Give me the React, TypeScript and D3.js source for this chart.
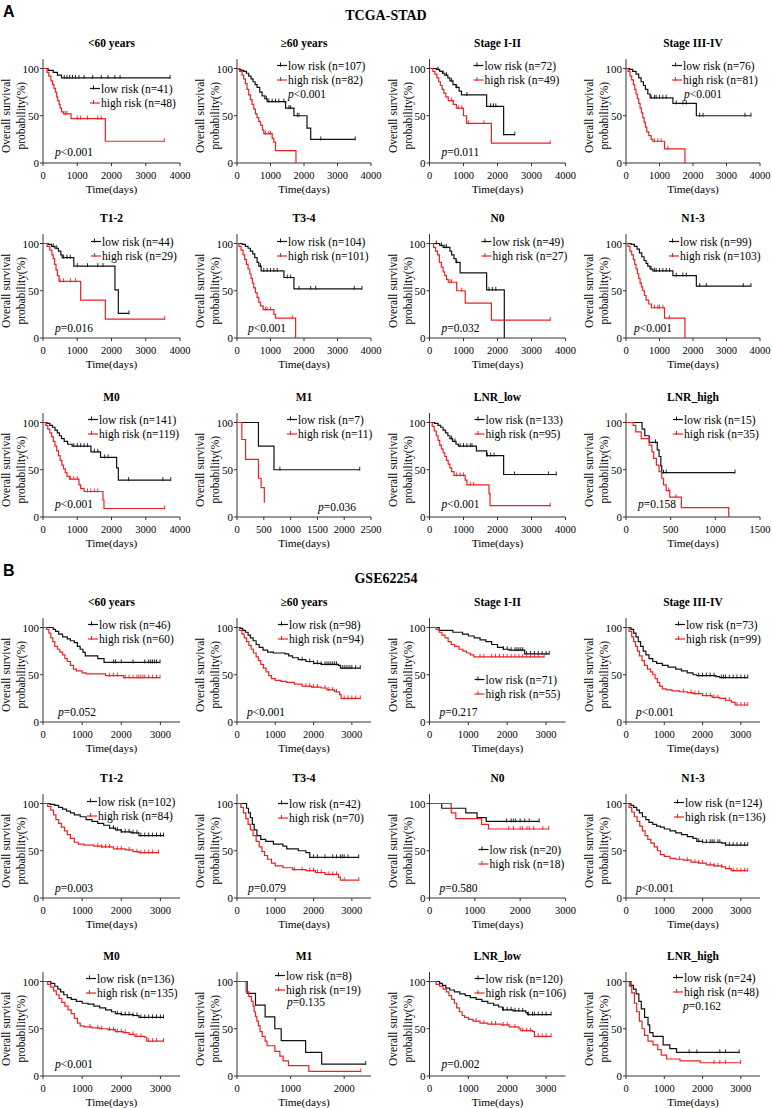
import React from 'react';
import * as d3 from 'd3';

type Pt = [number, number];

// ---------------- TCGA-STAD (block A) ----------------
const a1Low: Pt[] = [[0,100],[150,98],[300,96],[420,93],[540,90],[3710,90]];
const a1LowC = [620,700,780,860,950,1050,1200,1450,1700,1900,2100,2250,3710];
const a1High: Pt[] = [[0,100],[120,96],[170,92],[230,87],[280,83],[320,79],[360,75],[400,70],[430,66],[470,62],[500,58],[540,54],[600,52],[820,47],[1820,23],[3540,23]];
const a1HighC = [650,700,1000,1100,1300,1600,1700,3540];

const a2Low: Pt[] = [[0,100],[60,99],[120,98],[200,97],[280,95],[350,92],[420,89],[480,86],[540,83],[600,80],[680,75],[750,71],[830,68],[900,65],[1450,58],[1700,50],[2090,37],[2200,25],[3530,25]];
const a2LowC = [880,950,1050,1150,1250,1400,1550,1600,1800,1850,2500,3530];
const a2High: Pt[] = [[0,100],[80,97],[150,93],[200,89],[250,84],[300,78],[350,72],[400,67],[450,62],[500,57],[550,52],[600,48],[650,44],[700,40],[760,35],[800,31],[1050,26],[1100,22],[1150,13],[1760,0]];
const a2HighC = [850,950,1000];

const a3Low: Pt[] = [[0,100],[200,99],[300,97],[380,95],[450,93],[540,90],[600,87],[690,83],[780,80],[870,76],[940,72],[1680,60],[2180,30],[2510,30]];
const a3LowC = [250,400,500,650,800,1100,1800,1880,1950,2510];
const a3High: Pt[] = [[0,100],[100,97],[160,94],[220,90],[270,86],[320,82],[370,78],[420,74],[480,70],[550,66],[700,62],[790,58],[1000,50],[1090,42],[1820,21],[3550,21]];
const a3HighC = [650,850,950,1150,1600,3550];

const a4Low: Pt[] = [[0,100],[100,99],[200,97],[300,94],[380,90],[450,86],[520,82],[580,78],[650,73],[720,69],[1400,63],[2100,50],[3730,50]];
const a4LowC = [750,850,900,1000,1100,1200,1500,1700,1800,2200,2300,3550,3730];
const a4High: Pt[] = [[0,100],[60,97],[120,92],[170,88],[220,83],[260,78],[300,73],[340,68],[380,63],[420,58],[460,53],[500,48],[540,43],[580,38],[620,33],[680,29],[750,25],[800,23],[1150,15],[1760,0]];
const a4HighC = [850,950,1050,1250];

const a5Low: Pt[] = [[0,100],[150,99],[250,97],[350,95],[450,92],[520,88],[560,85],[900,76],[2100,51],[2200,26],[2510,26]];
const a5LowC = [300,400,600,700,800,1000,1300,1600,1750,2510];
const a5High: Pt[] = [[0,100],[120,97],[200,93],[260,88],[300,84],[340,78],[380,72],[420,66],[470,60],[1100,40],[1820,20],[3550,20]];
const a5HighC = [500,600,800,950,3550];

const a6Low: Pt[] = [[0,100],[150,99],[250,97],[330,95],[400,92],[470,89],[530,85],[600,80],[650,76],[720,71],[1400,64],[1700,52],[3730,52]];
const a6LowC = [700,800,900,1000,1100,1200,1500,1600,1850,2200,2350,3500,3730];
const a6High: Pt[] = [[0,100],[60,97],[120,93],[180,88],[230,83],[280,78],[330,73],[380,68],[420,63],[460,58],[500,53],[550,48],[600,43],[650,38],[700,34],[780,30],[1100,25],[1150,21],[1750,0]];
const a6HighC = [850,900,1000,1650];

const a7Low: Pt[] = [[0,100],[300,98],[400,96],[600,92],[650,88],[720,84],[780,80],[900,69],[1680,51],[2200,0]];
const a7LowC = [200,350,450,500,800,1750,1850,1950];
const a7High: Pt[] = [[0,100],[120,96],[180,92],[240,88],[290,80],[350,75],[400,70],[450,66],[500,62],[550,59],[800,50],[1050,37],[1820,19],[3550,19]];
const a7HighC = [600,650,950,3550];

const a8Low: Pt[] = [[0,100],[150,99],[250,97],[330,94],[400,90],[470,86],[540,82],[600,79],[650,76],[720,73],[800,71],[1400,66],[2100,55],[3730,55]];
const a8LowC = [750,850,900,1000,1100,1200,1300,1500,1700,1800,2200,2400,3500,3730];
const a8High: Pt[] = [[0,100],[60,97],[120,92],[170,88],[220,83],[260,78],[300,73],[340,68],[380,63],[420,58],[460,54],[500,50],[550,45],[600,40],[680,36],[760,32],[1150,21],[1760,0]];
const a8HighC = [850,950,1000,1100,1300];

const a9Low: Pt[] = [[0,100],[120,99],[200,97],[280,95],[350,92],[420,89],[480,86],[540,83],[620,80],[720,77],[850,75],[1400,69],[1680,63],[2150,52],[2200,39],[3730,39]];
const a9LowC = [900,1000,1100,1200,1300,1500,1600,1800,1900,2500,3500,3730];
const a9High: Pt[] = [[0,100],[80,97],[140,93],[200,89],[250,85],[300,80],[350,75],[400,70],[450,65],[500,60],[550,55],[600,51],[650,47],[700,43],[780,40],[1050,34],[1100,30],[1200,27],[1750,18],[1780,9],[3550,9]];
const a9HighC = [800,900,1000,1300,1400,1500,1600,3550];

const a10Low: Pt[] = [[0,100],[400,75],[690,50],[2290,50]];
const a10LowC = [800,2290];
const a10High: Pt[] = [[0,100],[90,82],[160,61],[400,41],[450,31],[510,15]];
const a10HighC: number[] = [];

const a11Low: Pt[] = [[0,100],[150,99],[250,97],[330,95],[400,92],[470,89],[540,86],[600,83],[680,80],[780,77],[850,75],[1380,70],[1680,65],[2180,45],[3730,45]];
const a11LowC = [650,750,900,1000,1100,1200,1250,1700,1800,1900,2500,3500,3730];
const a11High: Pt[] = [[0,100],[80,96],[140,91],[200,86],[250,81],[300,76],[350,72],[400,68],[450,64],[500,60],[550,56],[600,52],[650,48],[720,44],[1050,39],[1100,34],[1750,25],[1780,12],[3550,12]];
const a11HighC = [800,900,1000,1200,1300,3550];

const a12Low: Pt[] = [[0,100],[180,93],[210,86],[260,79],[350,71],[370,64],[390,54],[400,47],[1220,47]];
const a12LowC = [330,420,450,1220];
const a12High: Pt[] = [[0,100],[80,97],[110,90],[170,83],[260,76],[290,69],[310,62],[340,55],[370,48],[400,41],[420,34],[450,28],[490,21],[620,10],[1150,0]];
const a12HighC = [480,560];

// ---------------- GSE62254 (block B) ----------------
const b1Low: Pt[] = [[0,100],[260,98],[320,96],[400,93],[500,90],[620,88],[700,86],[800,84],[880,80],[950,77],[1020,74],[1080,70],[1400,67],[1560,63],[2990,63]];
const b1LowC = [1800,1850,2000,2300,2600,2700,2750,2800,2850,2900,2990];
const b1High: Pt[] = [[0,100],[90,98],[150,94],[200,89],[250,85],[300,80],[370,77],[430,74],[500,71],[560,67],[620,64],[700,60],[780,56],[850,54],[1000,52],[1100,51],[1600,49],[2060,47],[2990,47]];
const b1HighC = [1700,1800,1900,2100,2200,2300,2400,2450,2500,2550,2600,2700,2800,2900,2990];

const b2Low: Pt[] = [[0,100],[80,99],[150,97],[220,95],[290,92],[350,89],[420,86],[500,82],[580,79],[680,76],[800,74],[950,73],[1250,72],[1350,70],[1450,68],[1600,66],[1800,64],[2000,62],[2200,61],[2650,60],[2700,57],[3220,57]];
const b2LowC = [1700,1900,2000,2100,2200,2300,2350,2400,2450,2500,2550,2600,2750,2800,2850,2900,2950,3000,3100,3220];
const b2High: Pt[] = [[0,100],[70,97],[130,93],[190,89],[250,85],[310,81],[370,77],[430,73],[500,69],[560,65],[620,61],[690,57],[760,53],[830,49],[900,46],[1000,44],[1150,43],[1300,42],[1500,40],[1700,38],[1950,37],[2200,36],[2350,34],[2550,32],[2680,29],[2720,25],[3220,25]];
const b2HighC = [1800,1900,2000,2100,2300,2400,2500,2600,2800,2900,3000,3100,3220];

const b3Low: Pt[] = [[0,100],[250,97],[600,95],[850,93],[1000,91],[1150,89],[1300,87],[1450,85],[1600,82],[1750,79],[1900,77],[2050,76],[2450,72],[3080,72]];
const b3LowC = [1900,2000,2100,2200,2250,2300,2350,2400,2500,2600,2700,2800,2900,3000,3080];
const b3High: Pt[] = [[0,100],[170,98],[250,95],[320,92],[400,89],[480,85],[560,82],[650,80],[760,77],[860,75],[950,73],[1050,71],[1140,69],[2950,69]];
const b3HighC = [1300,1400,1600,1700,1800,1900,2000,2100,2200,2300,2400,2500,2600,2700,2800,2950];

const b4Low: Pt[] = [[0,100],[130,98],[200,94],[260,90],[320,85],[380,80],[450,75],[520,71],[600,67],[700,64],[800,62],[950,60],[1100,58],[1300,56],[1450,54],[1600,52],[1750,50],[1850,49],[2350,48],[2450,47],[3180,47]];
const b4LowC = [1900,2000,2100,2200,2300,2500,2550,2600,2700,2800,2900,3000,3100,3180];
const b4High: Pt[] = [[0,100],[80,96],[150,90],[200,85],[250,80],[300,75],[350,70],[420,65],[480,60],[560,56],[640,53],[700,50],[760,46],[820,42],[880,38],[950,35],[1050,34],[1200,33],[1400,32],[1600,31],[1750,30],[2000,28],[2250,26],[2450,25],[2600,23],[2750,21],[2850,18],[3180,18]];
const b4HighC = [1500,1700,1800,1900,2100,2200,2300,2400,2600,2700,2900,3000,3100,3180];

const b5Low: Pt[] = [[0,100],[180,99],[300,98],[400,96],[500,94],[600,92],[700,90],[800,88],[950,86],[1100,83],[1250,81],[1400,79],[1550,77],[1700,74],[1850,72],[2000,70],[2250,69],[2450,66],[3080,66]];
const b5LowC = [1800,1900,2000,2100,2200,2300,2400,2500,2600,2700,2800,2900,3000,3080];
const b5High: Pt[] = [[0,100],[120,97],[200,93],[270,88],[330,83],[400,79],[470,75],[550,71],[620,67],[700,63],[800,59],[900,57],[1050,56],[1300,55],[1500,54],[1800,52],[2100,51],[2300,49],[2450,48],[2950,48]];
const b5HighC = [1400,1500,1600,1700,1900,2000,2200,2400,2500,2600,2700,2800,2950];

const b6Low: Pt[] = [[0,100],[250,95],[300,90],[350,85],[400,78],[450,72],[520,66],[620,62],[750,60],[950,57],[1200,55],[1300,52],[1600,50],[1800,48],[1900,43],[3180,43]];
const b6LowC = [2000,2100,2300,2500,2600,2700,2750,2800,2900,3180];
const b6High: Pt[] = [[0,100],[100,96],[170,90],[230,84],[290,78],[350,72],[420,66],[500,60],[580,54],[650,49],[720,45],[800,41],[900,37],[1000,34],[1200,32],[1450,30],[1800,29],[2050,27],[2300,25],[2650,22],[2700,19],[3180,19]];
const b6HighC = [1500,1700,1900,2000,2100,2200,2400,2500,2600,2800,3180];

const b7Low: Pt[] = [[0,100],[270,95],[800,90],[1050,85],[1250,81],[2420,81]];
const b7LowC = [1700,1800,1850,1900,2000,2100,2200,2420];
const b7High: Pt[] = [[0,100],[480,90],[580,84],[1150,78],[1300,73],[2630,73]];
const b7HighC = [1750,1850,2000,2050,2150,2200,2300,2500,2630];

const b8Low: Pt[] = [[0,100],[130,98],[200,96],[280,93],[350,90],[430,86],[520,83],[600,80],[700,78],[800,76],[900,75],[1000,73],[1150,71],[1300,69],[1450,67],[1600,65],[1750,63],[1850,60],[2000,59],[2500,58],[2600,56],[3180,56]];
const b8LowC = [1900,2000,2100,2200,2250,2300,2400,2450,2600,2700,2800,2900,3000,3100,3180];
const b8High: Pt[] = [[0,100],[80,96],[150,91],[220,86],[290,81],[360,76],[430,71],[500,66],[570,62],[650,58],[740,54],[820,50],[900,46],[1000,44],[1150,42],[1300,41],[1500,40],[1700,38],[1900,37],[2100,35],[2300,34],[2500,33],[2600,31],[2750,29],[3180,29]];
const b8HighC = [1400,1600,1800,1900,2000,2200,2300,2400,2500,2700,2800,2900,3000,3100,3180];

const b9Low: Pt[] = [[0,100],[200,98],[300,95],[380,92],[450,89],[530,86],[620,83],[720,81],[850,79],[1000,77],[1150,76],[1300,74],[1450,72],[1600,70],[1750,68],[1850,66],[2000,65],[2300,64],[2450,62],[3080,62]];
const b9LowC = [1900,2000,2100,2200,2300,2400,2500,2600,2700,2800,2900,3000,3080];
const b9High: Pt[] = [[0,100],[120,97],[200,94],[270,90],[340,86],[410,82],[480,78],[560,74],[640,70],[720,66],[800,61],[880,56],[950,53],[1050,52],[1250,51],[1450,50],[1650,49],[1850,47],[2050,46],[2200,44],[2350,42],[2600,41],[2650,37],[3080,37]];
const b9HighC = [1200,1400,1500,1700,1800,1900,2000,2100,2300,2400,2500,2700,2800,2900,3080];

const b10Low: Pt[] = [[0,100],[190,87.5],[345,75],[525,62.5],[705,50],[825,37.5],[1280,25],[1580,12.5],[2400,12.5]];
const b10LowC = [2400];
const b10High: Pt[] = [[0,100],[170,89],[220,84],[270,79],[300,74],[320,68],[345,63],[370,58],[400,53],[430,47],[470,42],[525,37],[560,32],[706,26],[800,21],[860,16],[960,11],[1340,5],[2310,5]];
const b10HighC = [2310];

const b11Low: Pt[] = [[0,100],[260,98],[330,96],[420,93],[520,91],[640,89],[780,87],[920,85],[1050,83],[1200,81],[1350,79],[1500,77],[1650,75],[1780,73],[1880,70],[2150,69],[2480,67],[2520,65],[3130,65]];
const b11LowC = [1900,2000,2100,2200,2300,2400,2550,2650,2700,2800,2900,3000,3130];
const b11High: Pt[] = [[0,100],[170,97],[260,95],[350,92],[430,89],[500,85],[570,81],[640,77],[700,72],[770,68],[840,64],[900,62],[1000,60],[1120,58],[1300,56],[1500,55],[1850,54],[2050,52],[2300,50],[2350,48],[2650,47],[2700,42],[3130,42]];
const b11HighC = [1200,1400,1600,1700,1900,2000,2200,2400,2500,2600,2800,2900,3000,3130];

const b12Low: Pt[] = [[0,100],[130,96],[195,92],[265,87],[335,79],[400,71],[485,62],[575,54],[620,46],[705,42],[970,33],[1145,29],[1320,25],[2955,25]];
const b12LowC = [1650,1850,2450,2600,2955];
const b12High: Pt[] = [[0,100],[90,95],[150,88],[220,77],[280,68],[350,58],[420,50],[485,43],[575,37],[705,33],[830,28],[920,22],[1060,18],[1410,16],[1940,14],[2990,14]];
const b12HighC = [2300,2450,2600,2990];

// ---------------- labels ----------------
const titles = ['<60 years', '\u226560 years', 'Stage I-II', 'Stage III-IV', 'T1-2', 'T3-4', 'N0', 'N1-3', 'M0', 'M1', 'LNR_low', 'LNR_high'];
const nLowA = [41, 107, 72, 76, 44, 104, 49, 99, 141, 7, 133, 15];
const nHighA = [48, 82, 49, 81, 29, 101, 27, 103, 119, 11, 95, 35];
const nLowB = [46, 98, 71, 73, 102, 42, 20, 124, 136, 8, 120, 24];
const nHighB = [60, 94, 55, 99, 84, 70, 18, 136, 135, 19, 106, 48];
const pA = ['<0.001', '<0.001', '=0.011', '<0.001', '=0.016', '<0.001', '=0.032', '<0.001', '<0.001', '=0.036', '<0.001', '=0.158'];
const pB = ['=0.052', '<0.001', '=0.217', '<0.001', '=0.003', '=0.079', '=0.580', '<0.001', '<0.001', '=0.135', '=0.002', '=0.162'];
const domA = [4000, 4000, 4000, 4000, 4000, 4000, 4000, 4000, 4000, 2500, 4000, 1500];
const stepA = [1000, 1000, 1000, 1000, 1000, 1000, 1000, 1000, 1000, 500, 1000, 500];
const domB = [3500, 3500, 3500, 3500, 3500, 3500, 3000, 3500, 3500, 2500, 3500, 3500];
const stepB = [1000, 1000, 1000, 1000, 1000, 1000, 1000, 1000, 1000, 1000, 1000, 1000];
const yTicks = [0, 50, 100];

const curvesA: [Pt[], number[], Pt[], number[]][] = [
  [a1Low, a1LowC, a1High, a1HighC], [a2Low, a2LowC, a2High, a2HighC], [a3Low, a3LowC, a3High, a3HighC], [a4Low, a4LowC, a4High, a4HighC],
  [a5Low, a5LowC, a5High, a5HighC], [a6Low, a6LowC, a6High, a6HighC], [a7Low, a7LowC, a7High, a7HighC], [a8Low, a8LowC, a8High, a8HighC],
  [a9Low, a9LowC, a9High, a9HighC], [a10Low, a10LowC, a10High, a10HighC], [a11Low, a11LowC, a11High, a11HighC], [a12Low, a12LowC, a12High, a12HighC],
];
const curvesB: [Pt[], number[], Pt[], number[]][] = [
  [b1Low, b1LowC, b1High, b1HighC], [b2Low, b2LowC, b2High, b2HighC], [b3Low, b3LowC, b3High, b3HighC], [b4Low, b4LowC, b4High, b4HighC],
  [b5Low, b5LowC, b5High, b5HighC], [b6Low, b6LowC, b6High, b6HighC], [b7Low, b7LowC, b7High, b7HighC], [b8Low, b8LowC, b8High, b8HighC],
  [b9Low, b9LowC, b9High, b9HighC], [b10Low, b10LowC, b10High, b10HighC], [b11Low, b11LowC, b11High, b11HighC], [b12Low, b12LowC, b12High, b12HighC],
];

// layout
const colX = [43, 237, 429.5, 626];
const colW = [137, 134, 136, 134];
const rowY0 = [163, 338, 517, 722, 898, 1076];
const PH = 94.5;
const legXA = [47, 40, 44, 46, 48, 40, 52, 43, 45, 50, 45, 47];
const legYA = [20, -3, -3, -3, -2, -2, -2, -2, -3, -3, -3, -3];
const pXA = [12, 51, 12, 58, 12, 11, 12, 8, 12, 81, 12, 12];
const pYA = [83, 25, 83, 25, 84, 84, 84, 84, 81, 84, 81, 81];
const legXB = [45, 41, 45, 49, 44, 41, 49, 48, 43, 38, 45, 47];
const legYB = [-3, -3, 52, -3, -2, 0, 46, -1, -3, -6, -3, -4];
const pXB = [15, 10, 10, 10, 12, 11, 10, 10, 12, 50, 12, 57];
const pYB = [84, 84, 84, 84, 84, 84, 84, 84, 82, 20, 82, 24];

const SERIF = '"Liberation Serif", "Times New Roman", serif';
const RED = '#ee2024';
const BLK = '#111';

function survAt(steps: Pt[], t: number): number {
  let s = 100;
  for (const [x, y] of steps) {
    if (x <= t) s = y; else break;
  }
  return s;
}

interface PanelProps {
  col: number; row: number; title: string; domain: number; step: number;
  low: Pt[]; lowC: number[]; high: Pt[]; highC: number[];
  nLow: number; nHigh: number; p: string; legX: number; legY: number; pX: number; pY: number;
}

function Panel(pp: PanelProps) {
  const x0 = colX[pp.col];
  const w = colW[pp.col];
  const y0 = rowY0[pp.row];
  const x = d3.scaleLinear().domain([0, pp.domain]).range([x0, x0 + w]);
  const y = d3.scaleLinear().domain([0, 100]).range([y0, y0 - PH]);
  const line = d3.line<Pt>().x(d => x(d[0])).y(d => y(d[1])).curve(d3.curveStepAfter);
  const xt = d3.range(0, pp.domain + 1, pp.step);
  const y100 = y(100);
  const cx = x0 + w / 2;
  const lx = x0 + pp.legX;
  const ly = y100 + pp.legY;
  const censor = (steps: Pt[], c: number[], color: string) =>
    c.map((t, i) => {
      const yy = y(survAt(steps, t));
      return <line key={color + i} x1={x(t)} x2={x(t)} y1={yy - 3} y2={yy + 1} stroke={color} strokeWidth={0.9} />;
    });
  return (
    <g>
      <text x={cx} y={y100 - 26} textAnchor="middle" dominantBaseline="central" fontFamily={SERIF} fontWeight="bold" fontSize={11.5}>{pp.title}</text>
      {/* axes */}
      <line x1={x0} x2={x0} y1={y0} y2={y(110)} stroke="#333" strokeWidth={1} />
      <line x1={x0} x2={x0 + w} y1={y0} y2={y0} stroke="#333" strokeWidth={1} />
      {yTicks.map(v => (
        <g key={'y' + v}>
          <line x1={x0 - 3} x2={x0} y1={y(v)} y2={y(v)} stroke="#333" />
          <text x={x0 - 4} y={y(v)} textAnchor="end" dominantBaseline="central" fontFamily={SERIF} fontSize={11}>{v}</text>
        </g>
      ))}
      {xt.map(v => (
        <g key={'x' + v}>
          <line x1={x(v)} x2={x(v)} y1={y0} y2={y0 + 3} stroke="#333" />
          <text x={x(v)} y={y0 + 12} textAnchor="middle" dominantBaseline="central" fontFamily={SERIF} fontSize={10.5}>{v}</text>
        </g>
      ))}
      <text x={cx} y={y0 + 26} textAnchor="middle" dominantBaseline="central" fontFamily={SERIF} fontSize={11.3}>Time(days)</text>
      <text transform={`translate(${x0 - 37},${y(50)}) rotate(-90)`} textAnchor="middle" dominantBaseline="central" fontFamily={SERIF} fontSize={11.5}>Overall survival</text>
      <text transform={`translate(${x0 - 22},${y(50)}) rotate(-90)`} textAnchor="middle" dominantBaseline="central" fontFamily={SERIF} fontSize={11.5}>probability(%)</text>
      {/* curves */}
      <path d={line(pp.low) || ''} fill="none" stroke={BLK} strokeWidth={1.2} />
      {censor(pp.low, pp.lowC, BLK)}
      <path d={line(pp.high) || ''} fill="none" stroke={RED} strokeWidth={1.2} />
      {censor(pp.high, pp.highC, RED)}
      {/* legend */}
      <line x1={lx} x2={lx + 10} y1={ly} y2={ly} stroke={BLK} strokeWidth={1.2} />
      <line x1={lx + 3.5} x2={lx + 3.5} y1={ly - 3} y2={ly + 1} stroke={BLK} />
      <text x={lx + 11} y={ly} dominantBaseline="central" fontFamily={SERIF} fontSize={11.5}>{`low risk (n=${pp.nLow})`}</text>
      <line x1={lx} x2={lx + 10} y1={ly + 14.5} y2={ly + 14.5} stroke={RED} strokeWidth={1.2} />
      <line x1={lx + 3.5} x2={lx + 3.5} y1={ly + 11.5} y2={ly + 15.5} stroke={RED} />
      <text x={lx + 11} y={ly + 14.5} dominantBaseline="central" fontFamily={SERIF} fontSize={11.5}>{`high risk (n=${pp.nHigh})`}</text>
      {/* p value */}
      <text x={x0 + pp.pX} y={y100 + pp.pY} dominantBaseline="central" fontFamily={SERIF} fontSize={11.5}>
        <tspan fontStyle="italic">p</tspan>{pp.p}
      </text>
    </g>
  );
}

export default function App() {
  const panels: JSX.Element[] = [];
  for (let i = 0; i < 12; i++) {
    const [lo, loC, hi, hiC] = curvesA[i];
    panels.push(
      <Panel key={'A' + i} col={i % 4} row={Math.floor(i / 4)} title={titles[i]} domain={domA[i]} step={stepA[i]}
        low={lo} lowC={loC} high={hi} highC={hiC} nLow={nLowA[i]} nHigh={nHighA[i]} p={pA[i]}
        legX={legXA[i]} legY={legYA[i]} pX={pXA[i]} pY={pYA[i]} />
    );
  }
  for (let i = 0; i < 12; i++) {
    const [lo, loC, hi, hiC] = curvesB[i];
    panels.push(
      <Panel key={'B' + i} col={i % 4} row={3 + Math.floor(i / 4)} title={titles[i]} domain={domB[i]} step={stepB[i]}
        low={lo} lowC={loC} high={hi} highC={hiC} nLow={nLowB[i]} nHigh={nHighB[i]} p={pB[i]}
        legX={legXB[i]} legY={legYB[i]} pX={pXB[i]} pY={pYB[i]} />
    );
  }
  return (
    <svg width={772} height={1108} style={{ position: 'absolute', left: 0, top: 0, background: '#fff' }}>
      <text x={3} y={11} dominantBaseline="central" fontFamily='"Liberation Sans", Arial, sans-serif' fontWeight="bold" fontSize={16}>A</text>
      <text x={386} y={15} textAnchor="middle" dominantBaseline="central" fontFamily={SERIF} fontWeight="bold" fontSize={14}>TCGA-STAD</text>
      <text x={3} y={570} dominantBaseline="central" fontFamily='"Liberation Sans", Arial, sans-serif' fontWeight="bold" fontSize={16}>B</text>
      <text x={386} y={578} textAnchor="middle" dominantBaseline="central" fontFamily={SERIF} fontWeight="bold" fontSize={14}>GSE62254</text>
      {panels}
    </svg>
  );
}
